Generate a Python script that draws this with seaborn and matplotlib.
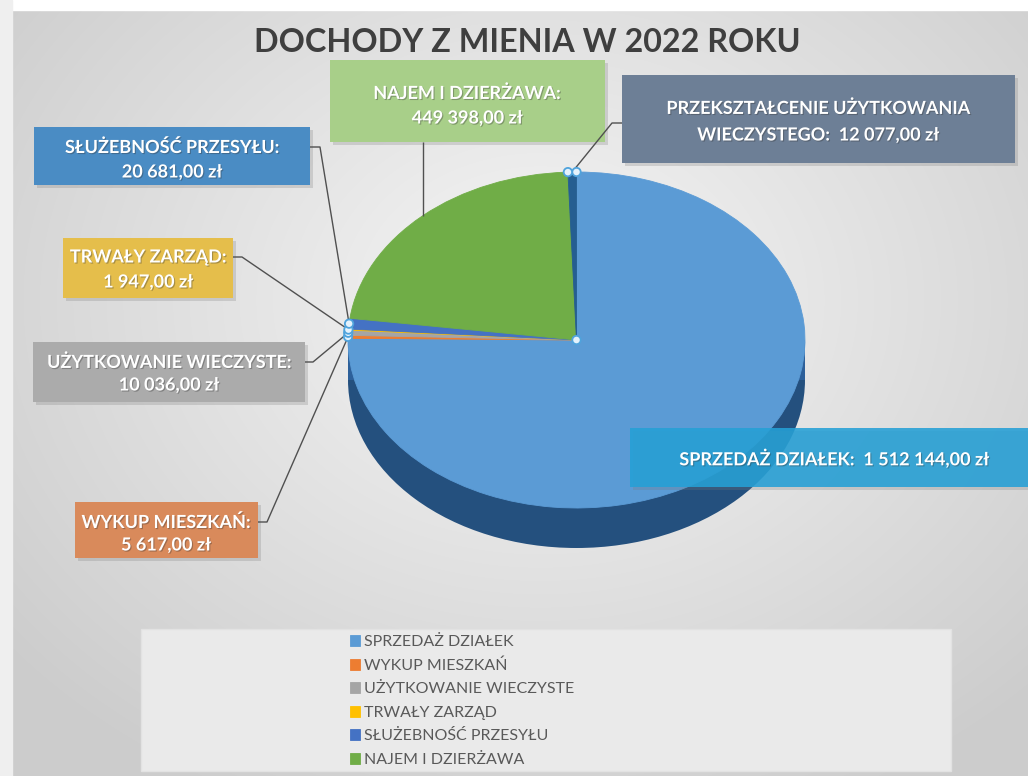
import numpy as np
import matplotlib
matplotlib.use("Agg")
import matplotlib.pyplot as plt
import matplotlib.patheffects as pe
from matplotlib.patches import Rectangle, Ellipse, Circle
import seaborn as sns

# ---------------- data ----------------
title = "DOCHODY Z MIENIA W 2022 ROKU"
categories = ["SPRZEDAŻ DZIAŁEK", "WYKUP MIESZKAŃ", "UŻYTKOWANIE WIECZYSTE",
              "TRWAŁY ZARZĄD", "SŁUŻEBNOŚĆ PRZESYŁU", "NAJEM I DZIERŻAWA",
              "PRZEKSZTAŁCENIE UŻYTKOWANIA WIECZYSTEGO"]
values = [1512144.00, 5617.00, 10036.00, 1947.00, 20681.00, 449398.00, 12077.00]
value_texts = ["1 512 144,00 zł", "5 617,00 zł", "10 036,00 zł", "1 947,00 zł",
               "20 681,00 zł", "449 398,00 zł", "12 077,00 zł"]
label_lines = [
    ["SPRZEDAŻ DZIAŁEK:  1 512 144,00 zł"],
    ["WYKUP MIESZKAŃ:", "5 617,00 zł"],
    ["UŻYTKOWANIE WIECZYSTE:", "10 036,00 zł"],
    ["TRWAŁY ZARZĄD:", "1 947,00 zł"],
    ["SŁUŻEBNOŚĆ PRZESYŁU:", "20 681,00 zł"],
    ["NAJEM I DZIERŻAWA:", "449 398,00 zł"],
    ["PRZEKSZTAŁCENIE UŻYTKOWANIA", "WIECZYSTEGO:  12 077,00 zł"],
]
legend_count = 6

# ---------------- style ----------------
sns.set_theme(style="white")
plt.rcParams['font.family'] = ['Lato', 'DejaVu Sans']

W, H = 1028, 776
fig = plt.figure(figsize=(W / 100, H / 100), dpi=100)

slice_colors = ["#5B9BD5", "#ED7D31", "#A5A5A5", "#FFC000", "#4472C4", "#70AD47", "#255E91"]
box_colors = ["#25A0D6", "#D98A5B", "#ABABAB", "#E5BE4B", "#4A8CC4", "#A8CF89", "#6D7F96"]
box_alpha = [0.88, 1, 1, 1, 1, 1, 1]

# ---------------- background ----------------
bg = fig.add_axes([0, 0, 1, 1], zorder=0)
bg.set_xlim(0, W); bg.set_ylim(H, 0); bg.axis("off")
yy, xx = np.mgrid[0:H, 0:W]
v = np.sqrt(((xx - 540) / 700.0) ** 2 + ((yy - 300) / 560.0) ** 2)
v = np.clip(v, 0, 1)
c0 = np.array([0.965, 0.965, 0.965]); c1 = np.array([0.80, 0.80, 0.80])
img = c0[None, None, :] * (1 - v[..., None]) + c1[None, None, :] * v[..., None]
bg.imshow(img, extent=(0, W, H, 0), aspect="auto", zorder=0)
bg.add_patch(Rectangle((0, 0), W, 10, color="white", zorder=1))
bg.add_patch(Rectangle((0, 0), 12, H, color="#EFEFEF", zorder=1))
# legend panel
bg.add_patch(Rectangle((141, 629), 810, 142, facecolor="#EAEAEA", edgecolor="#E2E2E2", lw=1, zorder=2))

# ---------------- pie ----------------
cx_px, cy_px, rx_px, ry_px, depth_px = 576.5, 340.0, 228.5, 168.0, 40.0
d = depth_px / ry_px
ax = fig.add_axes([(cx_px - rx_px) / W, (H - (cy_px + ry_px + depth_px)) / H,
                   2 * rx_px / W, (2 * ry_px + depth_px) / H], zorder=1)
wedges, _ = ax.pie(values, colors=slice_colors, startangle=90, counterclock=False,
                   radius=1, wedgeprops=dict(linewidth=0.6))
for w, c in zip(wedges, slice_colors):
    w.set_edgecolor(c)
ax.set_aspect("auto")
ax.set_xlim(-1, 1); ax.set_ylim(-1 - d, 1)
ax.axis("off")
ax.add_patch(Ellipse((0, -d), 2, 2, facecolor="#24507E", edgecolor="none", zorder=0.5))
ax.add_patch(Rectangle((-1, -d), 2, d, facecolor="#2D609A", edgecolor="none", zorder=0.5))

def pie_px(x, y):
    dx, dy = ax.transData.transform((x, y))
    return dx, H - dy

def wedge_point(i):
    w = wedges[i]
    a = np.deg2rad((w.theta1 + w.theta2) / 2)
    return pie_px(np.cos(a), np.sin(a))

# ---------------- overlay: labels ----------------
ov = fig.add_axes([0, 0, 1, 1], zorder=2)
ov.set_xlim(0, W); ov.set_ylim(H, 0); ov.axis("off"); ov.patch.set_alpha(0)

ov.text(527, 43, title, ha="center", va="center", fontsize=23.3, fontweight="bold", color="#3F3F3F")

# box layout: (x0, y0, x1, y1), text center x, line ys, leader anchor, elbow
layout = {
    0: ((630, 428, 1028, 487), 834, [458], None, None),
    1: ((75, 502, 258, 558), 166, [522, 545], (258, 522), (267, 522)),
    2: ((33, 342, 305, 402), 169, [362, 385], (305, 362), (313, 362)),
    3: ((63, 238, 233, 298), 148, [257, 282], (233, 257), (242, 257)),
    4: ((34, 127, 310, 185), 172, [147, 172], (310, 147), (320, 147)),
    5: ((330, 60, 605, 142), 467, [93, 118], None, None),
    6: ((622, 75, 1015, 163), 818, [108, 135], (622, 123), (612, 123)),
}

shadow = [pe.withSimplePatchShadow(offset=(0.8, -0.8), shadow_rgbFace="#333333", alpha=0.35)]
handle_pts = []
for i in range(len(values)):
    (x0, y0, x1, y1), tx, tys, anchor, elbow = layout[i]
    ov.add_patch(Rectangle((x0 + 3, y0 + 3), x1 - x0, y1 - y0, facecolor="#7A7A7A",
                           edgecolor="none", alpha=0.25, zorder=3))
    ov.add_patch(Rectangle((x0, y0), x1 - x0, y1 - y0, facecolor=box_colors[i],
                           edgecolor="none", alpha=box_alpha[i], zorder=4))
    for line, ty in zip(label_lines[i], tys):
        ov.text(tx, ty, line, ha="center", va="center", fontsize=13, fontweight="bold",
                color="white", zorder=6, path_effects=shadow)
    if i == 0:
        continue
    px, py = wedge_point(i)
    if i == 5:
        pts = [(px, y1), (px, py)]
    else:
        pts = [anchor, elbow, (px, py)]
        if i != 6:
            handle_pts.append((px, py))
    xs, ys = zip(*pts)
    ov.plot(xs, ys, color="#505050", lw=1.0, zorder=5, solid_capstyle="butt")

# selection handles: pie centre, outer edge of the thin top slice, small left slices
handle_pts.append(pie_px(0, 0))
w6 = wedges[6]
for ang in (w6.theta1, w6.theta2):
    a = np.deg2rad(ang)
    handle_pts.append(pie_px(np.cos(a), np.sin(a)))
for (hx, hy) in handle_pts:
    ov.add_patch(Circle((hx, hy), 4.2, facecolor="#E4F2FC", edgecolor="#4FA3DC", lw=1.3, zorder=7))

# ---------------- legend ----------------
leg = fig.legend(wedges[:legend_count], categories[:legend_count],
                 loc="upper left", bbox_to_anchor=(350 / W, 1 - 635 / H),
                 frameon=False, fontsize=11.5, labelcolor="#595959",
                 handlelength=0.6, handleheight=0.7, handletextpad=0.3,
                 labelspacing=0.58, borderpad=0, borderaxespad=0)
leg.set_zorder(5)

fig.savefig("out.png", dpi=100)
